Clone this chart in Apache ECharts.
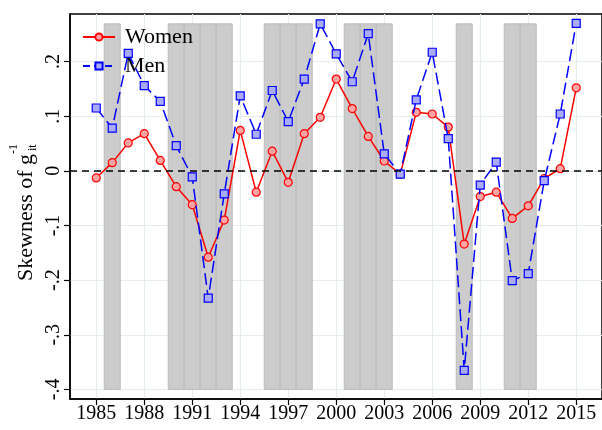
<!DOCTYPE html>
<html>
<head>
<meta charset="utf-8">
<script src="https://cdn.jsdelivr.net/npm/echarts@6/dist/echarts.min.js"></script>
<style>
  html, body { margin: 0; padding: 0; background: #fff; }
  #chart { width: 602px; height: 430px; }
</style>
</head>
<body>
<div id="chart"></div>
<script>
'use strict';

// years 1985..2015
var years = [1985, 1986, 1987, 1988, 1989, 1990, 1991, 1992, 1993, 1994,
             1995, 1996, 1997, 1998, 1999, 2000, 2001, 2002, 2003, 2004,
             2005, 2006, 2007, 2008, 2009, 2010, 2011, 2012, 2013, 2014, 2015];

var women = [-0.013, 0.015, 0.051, 0.068, 0.019, -0.029, -0.062, -0.158, -0.090, 0.074,
             -0.039, 0.036, -0.021, 0.068, 0.098, 0.168, 0.114, 0.063, 0.018, -0.006,
             0.107, 0.104, 0.080, -0.134, -0.047, -0.039, -0.087, -0.064, -0.014, 0.004, 0.152];

var men = [0.115, 0.078, 0.215, 0.156, 0.127, 0.046, -0.011, -0.233, -0.042, 0.137,
           0.067, 0.147, 0.090, 0.168, 0.269, 0.214, 0.163, 0.251, 0.031, -0.006,
           0.130, 0.217, 0.059, -0.365, -0.026, 0.016, -0.201, -0.188, -0.018, 0.104, 0.270];

// shaded (recession) years
var shadedYears = [1986, 1990, 1991, 1992, 1993, 1996, 1997, 1998, 2001, 2002, 2003, 2008, 2011, 2012];
var shadeTop = 0.269;
var shadeBottom = -0.4;

var xTicks = [1985, 1988, 1991, 1994, 1997, 2000, 2003, 2006, 2009, 2012, 2015];
var yTicks = [-0.4, -0.3, -0.2, -0.1, 0, 0.1, 0.2];

var FONT = '"Liberation Serif", "DejaVu Serif", serif';

function pair(a, b) {
    var out = [];
    for (var i = 0; i < a.length; i++) out.push([a[i], b[i]]);
    return out;
}

function yFmt(v) {
    if (Math.abs(v) < 1e-9) return '0';
    return (v < 0 ? '-' : '') + '.' + Math.round(Math.abs(v) * 10);
}

var shadeAreas = shadedYears.map(function (y) {
    return [{ xAxis: y - 0.5, yAxis: shadeBottom }, { xAxis: y + 0.5, yAxis: shadeTop }];
});

var chart = echarts.init(document.getElementById('chart'));
var option = {
    backgroundColor: '#fff',
    animation: false,
    grid: {
        left: 70, top: 14, right: -2, bottom: 31,
        show: true, borderColor: '#000', borderWidth: 1.5, backgroundColor: 'transparent'
    },
    legend: {
        orient: 'vertical',
        left: 77, top: 21,
        itemWidth: 32, itemHeight: 9, itemGap: 7,
        textStyle: { fontFamily: FONT, fontSize: 22, color: '#000', padding: [0, 0, 0, 5] },
        data: [
            { name: 'Women' },
            { name: 'Men', lineStyle: { type: [7, 4] } }
        ]
    },
    xAxis: {
        type: 'value',
        min: 1983.36, max: 2016.61,
        axisLine: { show: true, onZero: false, lineStyle: { color: '#000', width: 1.5 } },
        axisTick: { show: true, length: 6, customValues: xTicks, lineStyle: { color: '#000', width: 1.2 } },
        axisLabel: { customValues: xTicks, formatter: function (v) { return String(v); },
                     fontFamily: FONT, fontSize: 20, color: '#000', margin: 5 },
        splitLine: { show: true, lineStyle: { color: '#e3edf0', width: 1 } }
    },
    yAxis: {
        type: 'value',
        min: -0.4175, max: 0.287,
        axisLine: { show: true, onZero: false, lineStyle: { color: '#000', width: 1.5 } },
        axisTick: { show: true, length: 6, customValues: yTicks, lineStyle: { color: '#000', width: 1.2 } },
        axisLabel: { customValues: yTicks, rotate: 90, formatter: yFmt, fontFamily: FONT, fontSize: 20, color: '#000', margin: 6 },
        splitLine: { show: true, lineStyle: { color: '#e3edf0', width: 1 } }
    },
    graphic: [
        { type: 'text', x: 26, y: 281, rotation: Math.PI / 2,
          style: { text: 'Skewness of g', font: '22px ' + FONT, fill: '#000', align: 'left', verticalAlign: 'middle' } },
        { type: 'text', x: 33, y: 151, rotation: Math.PI / 2,
          style: { text: 'it', font: '12px ' + FONT, fill: '#000', align: 'left', verticalAlign: 'middle' } },
        { type: 'text', x: 14, y: 154, rotation: Math.PI / 2,
          style: { text: '-1', font: '12px ' + FONT, fill: '#000', align: 'left', verticalAlign: 'middle' } }
    ],
    series: [
        {
            name: 'shade',
            type: 'line',
            data: [],
            silent: true,
            markArea: {
                silent: true,
                itemStyle: { color: '#cccccc', borderColor: '#bcbcbc', borderWidth: 1 },
                data: shadeAreas
            },
            markLine: {
                silent: true,
                symbol: 'none',
                label: { show: false },
                lineStyle: { color: '#000', type: [7, 5], width: 1.5 },
                data: [{ yAxis: 0 }]
            }
        },
        {
            name: 'Women',
            type: 'line',
            data: pair(years, women),
            symbol: 'circle',
            symbolSize: 8,
            z: 3,
            lineStyle: { color: '#ff0000', width: 1.5 },
            itemStyle: { color: '#ffa4a4', borderColor: '#ff0000', borderWidth: 1.2 }
        },
        {
            name: 'Men',
            type: 'line',
            data: pair(years, men),
            symbol: 'rect',
            symbolSize: 8,
            z: 4,
            lineStyle: { color: '#0000ff', width: 1.5, type: [12, 5] },
            itemStyle: { color: '#aaaaff', borderColor: '#0000ff', borderWidth: 1.2 }
        }
    ]
};
chart.setOption(option);
</script>
</body>
</html>
